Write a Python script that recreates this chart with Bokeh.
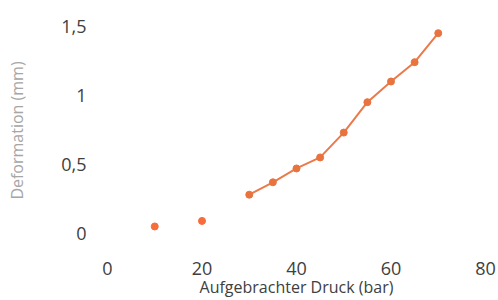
from bokeh.plotting import figure
from bokeh.models import Range1d, FixedTicker, CustomJSTickFormatter
from bokeh.embed import file_html
from bokeh.resources import INLINE

# data
pressure_dots = [10, 20]
deform_dots = [0.05, 0.09]
pressure_line = [30, 35, 40, 45, 50, 55, 60, 65, 70]
deform_line = [0.28, 0.37, 0.47, 0.55, 0.73, 0.95, 1.10, 1.24, 1.45]
x_ticks = [0, 20, 40, 60, 80]
y_ticks = [0, 0.5, 1, 1.5]
x_title = "Aufgebrachter Druck (bar)"
y_title = "Deformation (mm)"

p = figure(width=498, height=300, output_backend="svg", toolbar_location=None,
           x_range=Range1d(0, 80), y_range=Range1d(-0.03, 1.52),
           min_border_left=107, min_border_right=13, min_border_top=23, min_border_bottom=62)

p.outline_line_color = None
p.xgrid.visible = False
p.ygrid.visible = False
p.background_fill_color = "#ffffff"

p.line(pressure_line, deform_line, line_color="#EA7A4A", line_width=2)
p.scatter(pressure_line, deform_line, size=7, fill_color="#E8733F", line_color="#E8733F")
p.scatter(pressure_dots, deform_dots, size=7, fill_color="#F86B3A", line_color="#F86B3A")

fmt = CustomJSTickFormatter(code="return tick.toString().replace('.', ',');")

for ax in (p.xaxis[0], p.yaxis[0]):
    ax.axis_line_color = None
    ax.major_tick_line_color = None
    ax.minor_tick_line_color = None
    ax.major_tick_out = 0
    ax.major_tick_in = 0
    ax.minor_tick_out = 0
    ax.minor_tick_in = 0
    ax.major_label_text_font = "Open Sans"
    ax.major_label_text_font_size = "18px"
    ax.major_label_text_color = "#404040"
    ax.axis_label_text_font = "Open Sans"
    ax.axis_label_text_font_style = "normal"
    ax.axis_label_text_font_size = "16px"
    ax.formatter = fmt

p.xaxis.ticker = FixedTicker(ticks=x_ticks)
p.yaxis.ticker = FixedTicker(ticks=y_ticks)

p.xaxis.axis_label = x_title
p.xaxis.axis_label_text_color = "#404040"
p.xaxis.major_label_standoff = 24
p.xaxis.axis_label_standoff = -2

p.yaxis.axis_label = y_title
p.yaxis.axis_label_text_color = "#a6a6a6"
p.yaxis.major_label_standoff = 21
p.yaxis.axis_label_standoff = 30

open("out.html", "w").write(file_html(p, INLINE))
